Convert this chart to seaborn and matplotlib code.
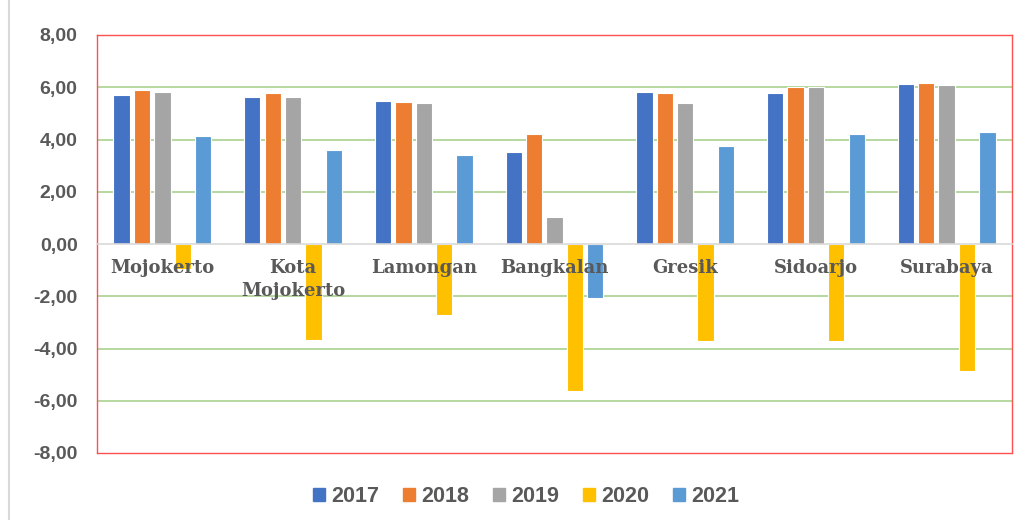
import matplotlib
matplotlib.use("Agg")
import matplotlib.pyplot as plt
import seaborn as sns
import pandas as pd
from matplotlib.ticker import FuncFormatter, FixedLocator
from matplotlib.lines import Line2D

regions = ['Mojokerto', 'Kota\nMojokerto', 'Lamongan', 'Bangkalan', 'Gresik', 'Sidoarjo', 'Surabaya']
years = ['2017', '2018', '2019', '2020', '2021']
v2017 = [5.72, 5.62, 5.49, 3.53, 5.82, 5.78, 6.13]
v2018 = [5.89, 5.78, 5.45, 4.20, 5.78, 6.00, 6.16]
v2019 = [5.80, 5.62, 5.40, 1.02, 5.40, 6.00, 6.09]
v2020 = [-0.95, -3.69, -2.70, -5.63, -3.70, -3.70, -4.86]
v2021 = [4.12, 3.61, 3.40, -2.06, 3.77, 4.20, 4.29]
colors = ['#4472C4', '#ED7D31', '#A5A5A5', '#FFC000', '#5B9BD5']
yticks = [-8, -6, -4, -2, 0, 2, 4, 6, 8]

series = [v2017, v2018, v2019, v2020, v2021]
rows = []
for y, vals in zip(years, series):
    for r, v in zip(regions, vals):
        rows.append({'region': r, 'year': y, 'value': v})
df = pd.DataFrame(rows)

sns.set_theme(style='white')
plt.rcParams['font.family'] = ['Liberation Sans', 'DejaVu Sans']

fig = plt.figure(figsize=(10.25, 5.2), dpi=100)
ax = fig.add_axes([97/1025, 1 - 453/520, (1012-97)/1025, (453-35)/520])

sns.barplot(data=df, x='region', y='value', hue='year', order=regions, hue_order=years,
            palette=colors, saturation=1, width=0.78, gap=0.2, edgecolor='white', linewidth=0.8,
            errorbar=None, ax=ax, legend=True)

ax.set_ylim(-8, 8)
ax.set_xlim(-0.5, len(regions) - 0.5)
ax.yaxis.set_major_locator(FixedLocator(yticks))
ax.yaxis.set_major_formatter(FuncFormatter(lambda v, p: f"{v:.2f}".replace('.', ',')))
ax.set_xlabel('')
ax.set_ylabel('')

for t in [-6, -4, -2, 2, 4, 6]:
    ax.axhline(t, color='#A9D18E', linewidth=1.2, zorder=0.5)

red = '#FF5050'
for s in ['top', 'left', 'right']:
    ax.spines[s].set_color(red)
    ax.spines[s].set_linewidth(1.0)
ax.spines['bottom'].set_position(('data', 0))
ax.spines['bottom'].set_color('#D9D9D9')
ax.spines['bottom'].set_linewidth(1.2)
ax.axhline(-8, color=red, linewidth=1.0, clip_on=False, zorder=3)

ax.tick_params(axis='y', length=0, pad=14, labelsize=14, labelcolor='#595959')
for lab in ax.get_yticklabels():
    lab.set_fontweight('bold')
ax.tick_params(axis='x', length=0, pad=11, labelcolor='#595959')
for lab in ax.get_xticklabels():
    lab.set_fontfamily('DejaVu Serif')
    lab.set_fontweight('bold')
    lab.set_fontsize(13)
    lab.set_linespacing(1.35)
ax.xaxis.set_zorder(5)

ax.get_legend().remove()
handles = [plt.Rectangle((0, 0), 1, 1, color=c) for c in colors]
leg = fig.legend(handles, years, loc='center', bbox_to_anchor=(526/1025, 23/520), ncol=5,
                 frameon=False, handlelength=0.55, handleheight=0.55, handletextpad=0.3,
                 columnspacing=1.1, prop={'weight': 'bold', 'size': 15.5})
for t in leg.get_texts():
    t.set_color('#595959')

fig.add_artist(Line2D([9/1025, 9/1025], [0, 1], transform=fig.transFigure, color='#D9D9D9', linewidth=1.5))

fig.savefig('out.png', dpi=100)
